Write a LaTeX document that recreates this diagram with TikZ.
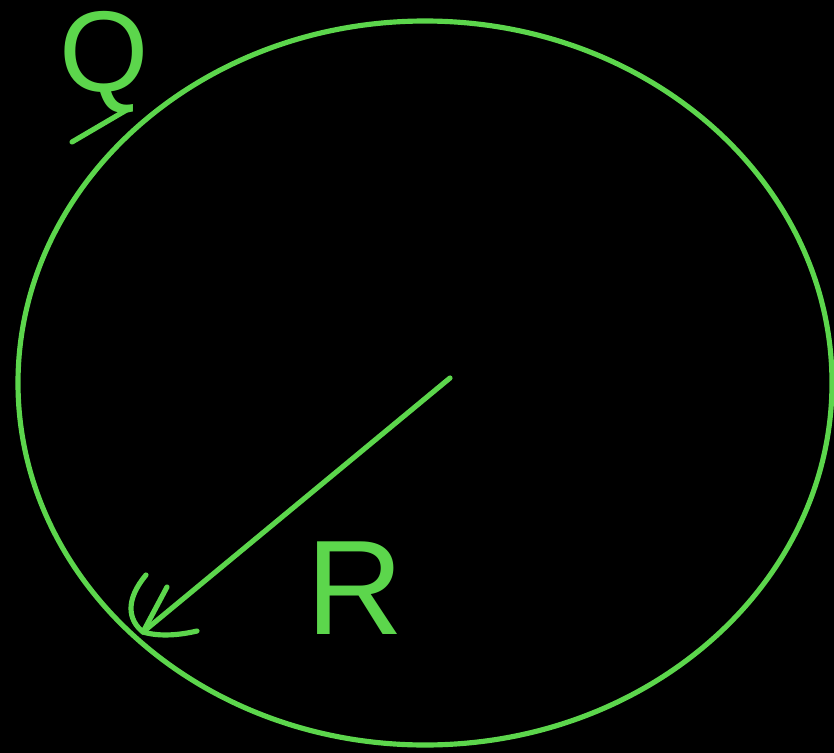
\documentclass[tikz,border=0pt]{standalone}
\usepackage{fontspec}
\setmainfont{Liberation Sans}
\definecolor{ink}{RGB}{92,214,76}
\begin{document}
\begin{tikzpicture}[x=0.03cm,y=-0.03cm,
  stroke/.style={draw=ink,line width=4.4pt,line cap=round,line join=round},
  lbl/.style={text=ink,inner sep=0pt}]
\fill[black] (0,0) rectangle (834,753);
\useasboundingbox (0,0) rectangle (834,753);
\coordinate (c) at (425,383);
\draw[stroke] (c) ellipse [x radius=407, y radius=362];
\coordinate (tail) at (450,378);
\coordinate (tip) at (143,632);
\draw[stroke] (tail) -- (tip);
\draw[stroke] (146,575) .. controls (125,600) and (128,620) .. (tip) .. controls (160,637) and (180,635) .. (197,631);
\draw[stroke] (167,587) -- (tip);
\node[lbl,font=\fontsize{98}{98}\selectfont] (q) at (104,62) {Q};
\draw[stroke] (72,142) -- (130,108);
\node[lbl,font=\fontsize{115}{115}\selectfont] (r) at (355,588) {R};
\end{tikzpicture}
\end{document}
